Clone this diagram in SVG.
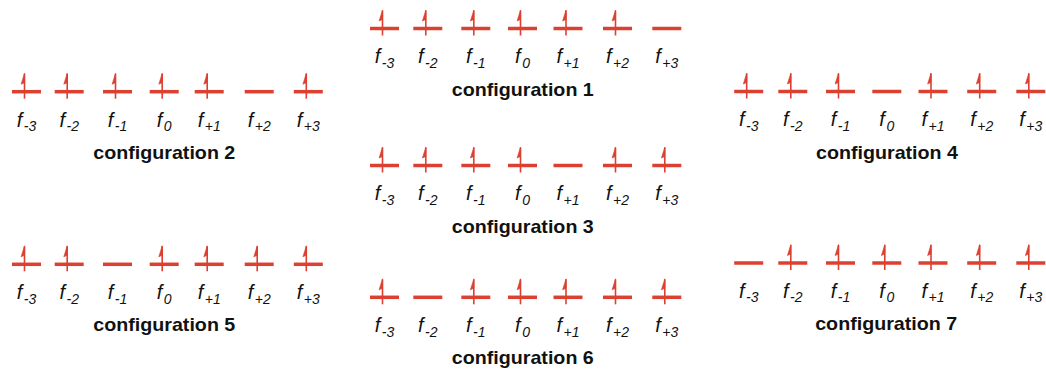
<svg xmlns="http://www.w3.org/2000/svg" xmlns:xlink="http://www.w3.org/1999/xlink" width="1046" height="369" viewBox="0 0 1046 369">
<style>
.bar{stroke:#dc4030;stroke-width:3.5;fill:none}
.spin{stroke:#dc4030;stroke-width:1.6;fill:none}
.head{fill:#dc4030;stroke:#dc4030;stroke-width:0.6;stroke-linejoin:miter}
.lbl{font-family:"Liberation Sans",Arial,sans-serif;font-style:italic;font-size:20px;fill:#111;text-anchor:middle}
.sub{font-size:14px}
.cfg{font-family:"Liberation Sans",Arial,sans-serif;font-weight:bold;font-size:19px;fill:#111;text-anchor:middle}
</style>
<defs>
<g id="empty"><line class="bar" x1="-14.5" y1="0" x2="14.5" y2="0"/></g>
<g id="filled"><line class="bar" x1="-14.5" y1="0" x2="14.5" y2="0"/><line class="spin" x1="-2" y1="-18" x2="-2" y2="7"/><polygon class="head" points="-2,-18.5 -5.4,-7.5 -2,-9"/></g>
</defs>
<g id="config1">
<use xlink:href="#filled" x="384.5" y="28.5"/><use xlink:href="#filled" x="427.8" y="28.5"/><use xlink:href="#filled" x="475.8" y="28.5"/><use xlink:href="#filled" x="522.5" y="28.5"/><use xlink:href="#filled" x="568" y="28.5"/><use xlink:href="#filled" x="617.5" y="28.5"/><use xlink:href="#empty" x="666.8" y="28.5"/>
<text class="lbl" x="384.5" y="63.3">f<tspan class="sub" dx="1.5" dy="4.5">-3</tspan></text>
<text class="lbl" x="427.8" y="63.3">f<tspan class="sub" dx="1.5" dy="4.5">-2</tspan></text>
<text class="lbl" x="475.8" y="63.3">f<tspan class="sub" dx="1.5" dy="4.5">-1</tspan></text>
<text class="lbl" x="522.5" y="63.3">f<tspan class="sub" dx="1.5" dy="4.5">0</tspan></text>
<text class="lbl" x="568" y="63.3">f<tspan class="sub" dx="1.5" dy="4.5">+1</tspan></text>
<text class="lbl" x="617.5" y="63.3">f<tspan class="sub" dx="1.5" dy="4.5">+2</tspan></text>
<text class="lbl" x="666.8" y="63.3">f<tspan class="sub" dx="1.5" dy="4.5">+3</tspan></text>
<text class="cfg" x="522.8" y="95.5" textLength="142" lengthAdjust="spacingAndGlyphs">configuration 1</text>
</g>
<g id="config2">
<use xlink:href="#filled" x="26.5" y="91.7"/><use xlink:href="#filled" x="69.2" y="91.7"/><use xlink:href="#filled" x="117.5" y="91.7"/><use xlink:href="#filled" x="164.2" y="91.7"/><use xlink:href="#filled" x="209.2" y="91.7"/><use xlink:href="#empty" x="259.2" y="91.7"/><use xlink:href="#filled" x="308.3" y="91.7"/>
<text class="lbl" x="26.5" y="126.5">f<tspan class="sub" dx="1.5" dy="4.5">-3</tspan></text>
<text class="lbl" x="69.2" y="126.5">f<tspan class="sub" dx="1.5" dy="4.5">-2</tspan></text>
<text class="lbl" x="117.5" y="126.5">f<tspan class="sub" dx="1.5" dy="4.5">-1</tspan></text>
<text class="lbl" x="164.2" y="126.5">f<tspan class="sub" dx="1.5" dy="4.5">0</tspan></text>
<text class="lbl" x="209.2" y="126.5">f<tspan class="sub" dx="1.5" dy="4.5">+1</tspan></text>
<text class="lbl" x="259.2" y="126.5">f<tspan class="sub" dx="1.5" dy="4.5">+2</tspan></text>
<text class="lbl" x="308.3" y="126.5">f<tspan class="sub" dx="1.5" dy="4.5">+3</tspan></text>
<text class="cfg" x="164.3" y="158.7" textLength="142" lengthAdjust="spacingAndGlyphs">configuration 2</text>
</g>
<g id="config3">
<use xlink:href="#filled" x="384.5" y="165.5"/><use xlink:href="#filled" x="427.8" y="165.5"/><use xlink:href="#filled" x="475.8" y="165.5"/><use xlink:href="#filled" x="522.5" y="165.5"/><use xlink:href="#empty" x="568" y="165.5"/><use xlink:href="#filled" x="617.5" y="165.5"/><use xlink:href="#filled" x="666.8" y="165.5"/>
<text class="lbl" x="384.5" y="200.3">f<tspan class="sub" dx="1.5" dy="4.5">-3</tspan></text>
<text class="lbl" x="427.8" y="200.3">f<tspan class="sub" dx="1.5" dy="4.5">-2</tspan></text>
<text class="lbl" x="475.8" y="200.3">f<tspan class="sub" dx="1.5" dy="4.5">-1</tspan></text>
<text class="lbl" x="522.5" y="200.3">f<tspan class="sub" dx="1.5" dy="4.5">0</tspan></text>
<text class="lbl" x="568" y="200.3">f<tspan class="sub" dx="1.5" dy="4.5">+1</tspan></text>
<text class="lbl" x="617.5" y="200.3">f<tspan class="sub" dx="1.5" dy="4.5">+2</tspan></text>
<text class="lbl" x="666.8" y="200.3">f<tspan class="sub" dx="1.5" dy="4.5">+3</tspan></text>
<text class="cfg" x="522.8" y="232.5" textLength="142" lengthAdjust="spacingAndGlyphs">configuration 3</text>
</g>
<g id="config4">
<use xlink:href="#filled" x="748.7" y="91.5"/><use xlink:href="#filled" x="792.8" y="91.5"/><use xlink:href="#filled" x="840.5" y="91.5"/><use xlink:href="#empty" x="886.8" y="91.5"/><use xlink:href="#filled" x="933" y="91.5"/><use xlink:href="#filled" x="981.7" y="91.5"/><use xlink:href="#filled" x="1030.8" y="91.5"/>
<text class="lbl" x="748.7" y="126.3">f<tspan class="sub" dx="1.5" dy="4.5">-3</tspan></text>
<text class="lbl" x="792.8" y="126.3">f<tspan class="sub" dx="1.5" dy="4.5">-2</tspan></text>
<text class="lbl" x="840.5" y="126.3">f<tspan class="sub" dx="1.5" dy="4.5">-1</tspan></text>
<text class="lbl" x="886.8" y="126.3">f<tspan class="sub" dx="1.5" dy="4.5">0</tspan></text>
<text class="lbl" x="933" y="126.3">f<tspan class="sub" dx="1.5" dy="4.5">+1</tspan></text>
<text class="lbl" x="981.7" y="126.3">f<tspan class="sub" dx="1.5" dy="4.5">+2</tspan></text>
<text class="lbl" x="1030.8" y="126.3">f<tspan class="sub" dx="1.5" dy="4.5">+3</tspan></text>
<text class="cfg" x="887" y="158.5" textLength="142" lengthAdjust="spacingAndGlyphs">configuration 4</text>
</g>
<g id="config5">
<use xlink:href="#filled" x="26.5" y="264.3"/><use xlink:href="#filled" x="69.2" y="264.3"/><use xlink:href="#empty" x="117.5" y="264.3"/><use xlink:href="#filled" x="164.2" y="264.3"/><use xlink:href="#filled" x="209.2" y="264.3"/><use xlink:href="#filled" x="259.2" y="264.3"/><use xlink:href="#filled" x="308.3" y="264.3"/>
<text class="lbl" x="26.5" y="299.1">f<tspan class="sub" dx="1.5" dy="4.5">-3</tspan></text>
<text class="lbl" x="69.2" y="299.1">f<tspan class="sub" dx="1.5" dy="4.5">-2</tspan></text>
<text class="lbl" x="117.5" y="299.1">f<tspan class="sub" dx="1.5" dy="4.5">-1</tspan></text>
<text class="lbl" x="164.2" y="299.1">f<tspan class="sub" dx="1.5" dy="4.5">0</tspan></text>
<text class="lbl" x="209.2" y="299.1">f<tspan class="sub" dx="1.5" dy="4.5">+1</tspan></text>
<text class="lbl" x="259.2" y="299.1">f<tspan class="sub" dx="1.5" dy="4.5">+2</tspan></text>
<text class="lbl" x="308.3" y="299.1">f<tspan class="sub" dx="1.5" dy="4.5">+3</tspan></text>
<text class="cfg" x="164.3" y="331.3" textLength="142" lengthAdjust="spacingAndGlyphs">configuration 5</text>
</g>
<g id="config6">
<use xlink:href="#filled" x="384.5" y="297.3"/><use xlink:href="#empty" x="427.8" y="297.3"/><use xlink:href="#filled" x="475.8" y="297.3"/><use xlink:href="#filled" x="522.5" y="297.3"/><use xlink:href="#filled" x="568" y="297.3"/><use xlink:href="#filled" x="617.5" y="297.3"/><use xlink:href="#filled" x="666.8" y="297.3"/>
<text class="lbl" x="384.5" y="332.1">f<tspan class="sub" dx="1.5" dy="4.5">-3</tspan></text>
<text class="lbl" x="427.8" y="332.1">f<tspan class="sub" dx="1.5" dy="4.5">-2</tspan></text>
<text class="lbl" x="475.8" y="332.1">f<tspan class="sub" dx="1.5" dy="4.5">-1</tspan></text>
<text class="lbl" x="522.5" y="332.1">f<tspan class="sub" dx="1.5" dy="4.5">0</tspan></text>
<text class="lbl" x="568" y="332.1">f<tspan class="sub" dx="1.5" dy="4.5">+1</tspan></text>
<text class="lbl" x="617.5" y="332.1">f<tspan class="sub" dx="1.5" dy="4.5">+2</tspan></text>
<text class="lbl" x="666.8" y="332.1">f<tspan class="sub" dx="1.5" dy="4.5">+3</tspan></text>
<text class="cfg" x="522.8" y="364.3" textLength="142" lengthAdjust="spacingAndGlyphs">configuration 6</text>
</g>
<g id="config7">
<use xlink:href="#empty" x="748.7" y="263"/><use xlink:href="#filled" x="792.8" y="263"/><use xlink:href="#filled" x="840.5" y="263"/><use xlink:href="#filled" x="886.8" y="263"/><use xlink:href="#filled" x="933" y="263"/><use xlink:href="#filled" x="981.7" y="263"/><use xlink:href="#filled" x="1030.8" y="263"/>
<text class="lbl" x="748.7" y="297.8">f<tspan class="sub" dx="1.5" dy="4.5">-3</tspan></text>
<text class="lbl" x="792.8" y="297.8">f<tspan class="sub" dx="1.5" dy="4.5">-2</tspan></text>
<text class="lbl" x="840.5" y="297.8">f<tspan class="sub" dx="1.5" dy="4.5">-1</tspan></text>
<text class="lbl" x="886.8" y="297.8">f<tspan class="sub" dx="1.5" dy="4.5">0</tspan></text>
<text class="lbl" x="933" y="297.8">f<tspan class="sub" dx="1.5" dy="4.5">+1</tspan></text>
<text class="lbl" x="981.7" y="297.8">f<tspan class="sub" dx="1.5" dy="4.5">+2</tspan></text>
<text class="lbl" x="1030.8" y="297.8">f<tspan class="sub" dx="1.5" dy="4.5">+3</tspan></text>
<text class="cfg" x="886.2" y="330" textLength="142" lengthAdjust="spacingAndGlyphs">configuration 7</text>
</g>
<g id="connectors"/>
</svg>
